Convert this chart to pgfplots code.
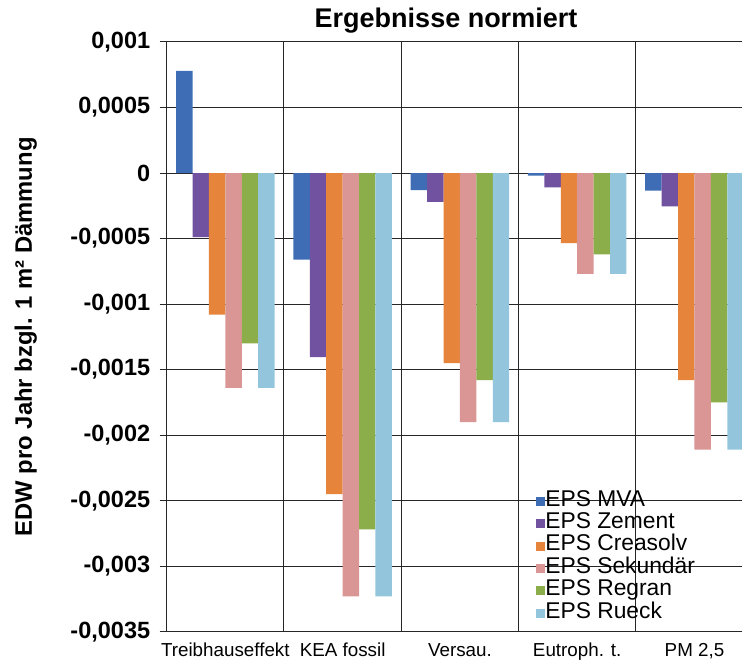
\documentclass[border=0pt]{standalone}
\usepackage{pgfplots}
\pgfplotsset{compat=1.18}
\usepackage{fontspec}
\setmainfont{Liberation Sans}
\definecolor{cMVA}{HTML}{3E6DB5}
\definecolor{cZem}{HTML}{7152A0}
\definecolor{cCrea}{HTML}{E5843A}
\definecolor{cSek}{HTML}{D99694}
\definecolor{cReg}{HTML}{8CAE4A}
\definecolor{cRue}{HTML}{93C6DD}
\begin{document}
\begin{tikzpicture}
\begin{axis}[
  scale only axis,
  width=575.3pt, height=589.7pt,
  xmin=0, xmax=4.905,
  ymin=-0.0035, ymax=0.001,
  enlargelimits=false,
  axis lines*=left,
  axis line style={line width=1pt, black!85},
  scaled y ticks=false,
  ytick={-0.0035,-0.003,-0.0025,-0.002,-0.0015,-0.001,-0.0005,0,0.0005,0.001},
  yticklabels={{-0,0035},{-0,003},{-0,0025},{-0,002},{-0,0015},{-0,001},{-0,0005},{0},{0,0005},{0,001}},
  yticklabel style={font=\fontsize{23.5}{24}\selectfont\bfseries, xshift=-6pt},
  ytick align=outside,
  major tick length=7pt,
  ytick style={line width=1pt, black!85},
  xtick={0.5,1.5,2.5,3.5,4.5},
  xticklabels={Treibhauseffekt, KEA fossil, Versau., Eutroph. t., {PM 2,5}},
  xticklabel style={font=\fontsize{18.8}{20}\selectfont, yshift=-1pt},
  minor xtick={1,2,3,4},
  xtick style={draw=none},
  xminorgrids=true,
  ymajorgrids=true,
  minor x grid style={line width=1pt, black!85},
  major grid style={line width=1pt, black!85},
  ybar,
  bar width=0.14,
  title={Ergebnisse normiert},
  title style={font=\fontsize{27}{28}\selectfont\bfseries, at={(rel axis cs:0.4855,1)}, anchor=base, yshift=8pt},
  ylabel={EDW pro Jahr bzgl. 1 m² Dämmung},
  ylabel style={font=\fontsize{23.8}{24}\selectfont\bfseries, at={(rel axis cs:0,0.5)}, anchor=center, yshift=141pt},
  legend style={draw=none, fill=none, at={(rel axis cs:0.637,0.2437)}, anchor=north west,
    font=\fontsize{22.8}{22.4}\selectfont,
    nodes={inner sep=0pt, text height=16pt, text depth=6.4pt},
    row sep=0pt},
  legend cell align=left,
  legend image code/.code={\fill[#1] (0pt,-4.5pt) rectangle (9pt,4.5pt);},
]
\addplot[fill=cMVA, draw=none, bar shift=-0.35] coordinates {(0.5,0.00078) (1.5,-0.00066) (2.5,-0.00013) (3.5,-0.00002) (4.5,-0.000135)};
\addplot[fill=cZem, draw=none, bar shift=-0.21] coordinates {(0.5,-0.00049) (1.5,-0.001405) (2.5,-0.00022) (3.5,-0.00011) (4.5,-0.000255)};
\addplot[fill=cCrea, draw=none, bar shift=-0.07] coordinates {(0.5,-0.00108) (1.5,-0.00245) (2.5,-0.00145) (3.5,-0.000535) (4.5,-0.00158)};
\addplot[fill=cSek, draw=none, bar shift=0.07] coordinates {(0.5,-0.00164) (1.5,-0.00323) (2.5,-0.0019) (3.5,-0.00077) (4.5,-0.00211)};
\addplot[fill=cReg, draw=none, bar shift=0.21] coordinates {(0.5,-0.0013) (1.5,-0.00272) (2.5,-0.00158) (3.5,-0.00062) (4.5,-0.00175)};
\addplot[fill=cRue, draw=none, bar shift=0.35] coordinates {(0.5,-0.00164) (1.5,-0.00323) (2.5,-0.0019) (3.5,-0.00077) (4.5,-0.00211)};
\legend{EPS MVA, EPS Zement, EPS Creasolv, EPS Sekundär, EPS Regran, EPS Rueck}
\end{axis}
\pgfresetboundingbox
\path (current axis.south west) ++(-166.7pt,-31.3pt) rectangle ++(742pt,663pt);
\end{tikzpicture}
\end{document}
